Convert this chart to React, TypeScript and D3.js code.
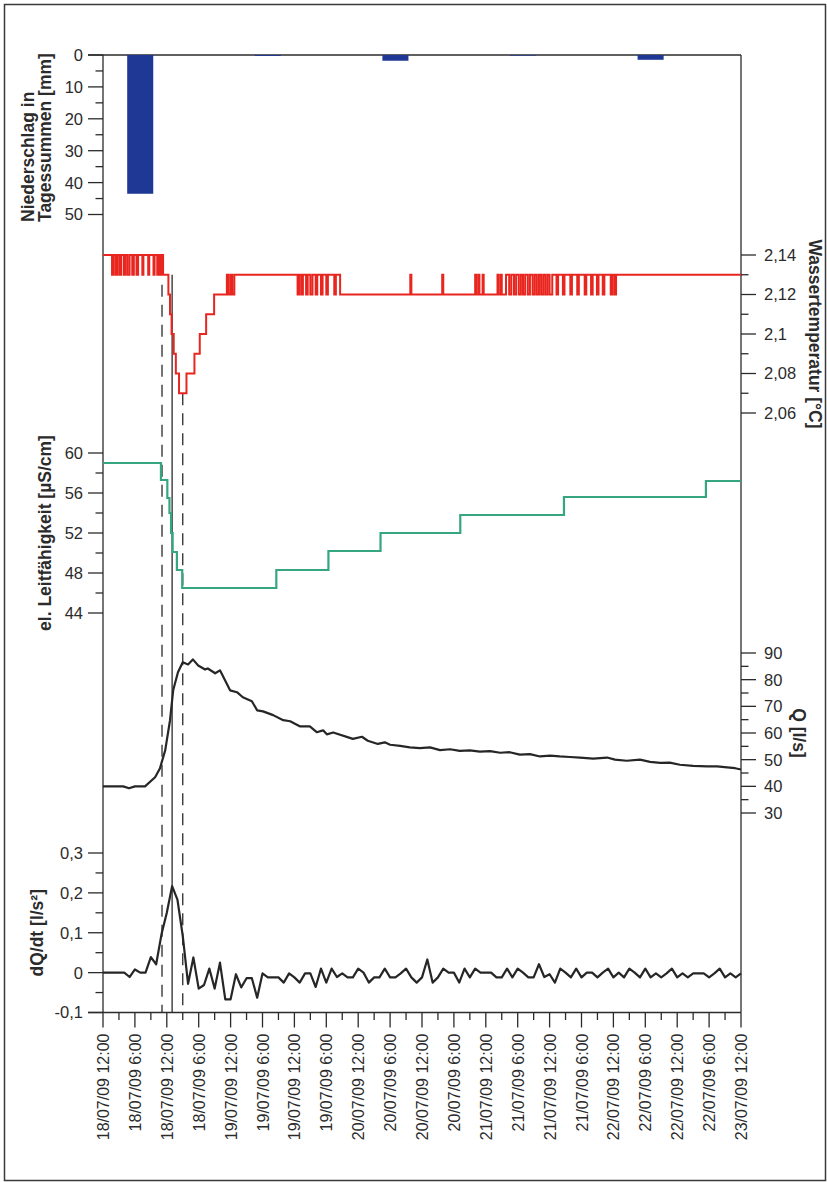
import { useEffect, useRef } from 'react';
import * as d3 from 'd3';

// time axis: hours after 18/07/09 12:00, labels as printed on the original
const X_LABELS = [
  '18/07/09 12:00', '18/07/09 6:00', '18/07/09 12:00', '18/07/09 6:00',
  '19/07/09 12:00', '19/07/09 6:00', '19/07/09 12:00', '19/07/09 6:00',
  '20/07/09 12:00', '20/07/09 6:00', '20/07/09 12:00', '20/07/09 6:00',
  '21/07/09 12:00', '21/07/09 6:00', '21/07/09 12:00', '21/07/09 6:00',
  '22/07/09 12:00', '22/07/09 6:00', '22/07/09 12:00', '22/07/09 6:00',
  '23/07/09 12:00',
];

// daily precipitation sums
const PRECIP_HOURS = [7, 31, 55, 79, 103];
const PRECIP_MM = [43.5, 0.3, 1.8, 0.2, 1.5];

// water temperature, change points (step series)
const TEMP_HOURS = [
  0, 1.7, 2.0, 2.4, 2.7, 3.1, 3.4, 3.9, 4.2, 4.6, 5.0, 5.5, 5.8, 6.3, 6.6, 7.4, 7.6, 8.5, 8.7, 9.5, 9.7,
  10.2, 10.5, 10.8, 11.1, 11.3,
  12.3, 12.6, 12.9, 13.3, 13.7, 14.3, 15.7, 17.2, 18.2, 19.4, 20.9,
  23.3, 23.6, 24.0, 24.3, 24.7,
  36.6, 36.9, 37.3, 37.6, 38.2, 38.5, 39.0, 39.4, 40.0, 40.3, 41.0, 41.3, 42.0, 42.3, 43.5, 43.8, 44.6,
  57.8, 58.0, 63.8, 64.0,
  70.0, 70.2, 70.6, 70.8, 71.4, 71.6,
  74.2, 74.4, 74.8, 75.0, 75.8, 76.4, 76.8, 77.3, 77.7, 78.2, 78.6, 79.0, 79.4, 79.9, 80.3, 80.8, 81.2,
  81.6, 82.0, 82.4, 82.8, 83.2, 83.6, 84.0, 84.5, 85.3, 85.6, 86.5, 86.8, 87.9, 88.2, 89.2, 89.5, 90.6,
  90.9, 91.8, 92.1, 92.9, 93.2, 94.0, 94.3, 95.5, 95.8, 96.2, 96.5,
  120,
];
const TEMP_VALUES = [
  2.14, 2.13, 2.14, 2.13, 2.14, 2.13, 2.14, 2.13, 2.14, 2.13, 2.14, 2.13, 2.14, 2.13, 2.14, 2.13, 2.14, 2.13, 2.14, 2.13, 2.14,
  2.13, 2.14, 2.13, 2.14, 2.13,
  2.12, 2.11, 2.10, 2.09, 2.08, 2.07, 2.08, 2.09, 2.10, 2.11, 2.12,
  2.13, 2.12, 2.13, 2.12, 2.13,
  2.12, 2.13, 2.12, 2.13, 2.12, 2.13, 2.12, 2.13, 2.12, 2.13, 2.12, 2.13, 2.12, 2.13, 2.12, 2.13, 2.12,
  2.13, 2.12, 2.13, 2.12,
  2.13, 2.12, 2.13, 2.12, 2.13, 2.12,
  2.13, 2.12, 2.13, 2.12, 2.13, 2.12, 2.13, 2.12, 2.13, 2.12, 2.13, 2.12, 2.13, 2.12, 2.13, 2.12, 2.13,
  2.12, 2.13, 2.12, 2.13, 2.12, 2.13, 2.12, 2.13, 2.12, 2.13, 2.12, 2.13, 2.12, 2.13, 2.12, 2.13, 2.12,
  2.13, 2.12, 2.13, 2.12, 2.13, 2.12, 2.13, 2.12, 2.13, 2.12, 2.13,
  2.13,
];

// electrical conductivity, change points (step series)
const COND_HOURS = [0, 10.9, 12.1, 12.5, 12.8, 13.1, 13.9, 14.9, 32.6, 42.4, 52.2, 67.2, 86.7, 113.4, 120];
const COND_VALUES = [59.0, 57.3, 55.5, 54.0, 52.0, 50.1, 48.3, 46.5, 48.3, 50.2, 52.0, 53.8, 55.6, 57.2, 57.2];

// discharge Q
const Q_HOURS = [
  0, 3.8, 4.9, 6, 7.9, 9.8, 10.7, 11.7, 12.6, 13.2, 14.1, 15, 16, 16.9, 17.9, 19.2, 19.7, 21.1, 22,
  23.9, 25.2, 26.3, 28, 29, 30.1, 32, 33.9, 35.2, 37, 38.9, 40.2, 41.4, 42.1, 43.3, 47, 48.7, 49.8,
  51.7, 53, 54, 55.9, 57.7, 59.6, 61.5, 63.4, 65.3, 67.1, 69, 70.9, 72.8, 74.7, 76.5, 78.4, 80.3,
  82.2, 84.1, 85.9, 87.8, 89.7, 92.2, 94.8, 96.3, 98.5, 101, 102.9, 104.8, 106.6, 108.5, 111, 113.6,
  115.5, 117.4, 118.9, 120,
];
const Q_VALUES = [
  40, 40, 39.3, 40, 40, 43.4, 46.7, 53.5, 64.7, 76, 82.8, 86.5, 85.7, 87.6, 85.3, 83.8, 84.2, 82.4, 83.5,
  76, 75.3, 73.4, 71.9, 68.5, 68.1, 66.7, 64.8, 64.4, 62.5, 62.5, 60.3, 61, 59.5, 60.2, 57.8, 58.6, 57.1,
  55.9, 56.5, 55.6, 55.2, 54.6, 54.3, 54.6, 53.6, 53.9, 53.3, 53.5, 53, 53.2, 52.6, 52.8, 51.9, 52.1,
  51.2, 51.5, 51.2, 51, 50.8, 50.4, 50.8, 50, 49.6, 50, 49.2, 48.8, 48.9, 48.1, 47.7, 47.5,
  47.5, 47.1, 46.8, 46.3,
];

// dQ/dt, hourly from hour 0 to 120
const DQ_VALUES = [
  0, 0, 0, 0, 0, -0.011, 0.008, 0, 0, 0.039, 0.021, 0.096, 0.15, 0.217, 0.183, 0.092, -0.028, 0.038,
  -0.04, -0.031, 0.01, -0.04, 0.025, -0.067, -0.067, -0.004, -0.037, -0.014, -0.014, -0.063, -0.002,
  -0.012, -0.012, -0.012, -0.025, -0.002, -0.012, -0.025, -0.002, -0.002, -0.036, 0.01, -0.025, 0.01,
  -0.011, -0.002, -0.012, -0.012, 0.01, 0, -0.025, -0.012, -0.012, 0.01, -0.012, -0.012, -0.002, 0.01,
  -0.012, -0.025, -0.012, 0.033, -0.025, -0.012, 0.01, 0, 0, -0.025, 0.01, -0.012, 0.01, 0, 0, 0,
  -0.012, -0.012, 0.01, -0.012, 0.01, 0, -0.012, -0.012, 0.021, -0.011, -0.004, -0.025, 0.01, 0,
  -0.012, 0.01, -0.012, 0, 0, -0.012, 0, 0.01, -0.012, 0, -0.012, 0.01, 0, -0.012, 0.01, -0.012,
  -0.002, -0.012, -0.002, 0.01, -0.012, -0.002, -0.012, -0.002, -0.002, -0.002, -0.012, -0.002, 0.01,
  -0.012, -0.002, -0.012, -0.002,
];

// event markers (hours), dashed / solid
const MARKER_HOURS = [11.1, 13.0, 15.0];
const MARKER_DASHED = [true, false, true];
const MARKER_TOP_TEMP = [2.125, 2.13, 2.07];

const FONT = 'Liberation Sans, Arial, Helvetica, sans-serif';
const INK = '#2b2b2b';

export default function App() {
  const svgRef = useRef<SVGSVGElement>(null);

  useEffect(() => {
    if (!svgRef.current) return;
    const svg = d3.select(svgRef.current);
    svg.selectAll('*').remove();

    const X0 = 103;
    const X1 = 741;
    const x = d3.scaleLinear().domain([0, 120]).range([X0, X1]);
    const yP = d3.scaleLinear().domain([0, 50]).range([55, 214.5]);
    const yT = d3.scaleLinear().domain([2.06, 2.14]).range([413, 255]);
    const yC = d3.scaleLinear().domain([44, 60]).range([613, 453]);
    const yQ = d3.scaleLinear().domain([30, 90]).range([813, 653]);
    const yD = d3.scaleLinear().domain([-0.1, 0.3]).range([1012.5, 853]);
    const BOTTOM = yD(-0.1);

    svg.append('rect')
      .attr('x', 4.5).attr('y', 4.5).attr('width', 821).attr('height', 1176)
      .attr('fill', '#fff').attr('stroke', '#3a3a3a').attr('stroke-width', 1.5);

    // vertical axis with major + minor ticks
    const vAxis = (scale: any, majors: number[], labels: string[], minors: number[], side: string) => {
      const g = svg.append('g');
      const xPos = side === 'left' ? X0 : X1;
      const dir = side === 'left' ? -1 : 1;
      majors.forEach((v, i) => {
        g.append('line')
          .attr('x1', xPos).attr('x2', xPos + dir * 15)
          .attr('y1', scale(v)).attr('y2', scale(v))
          .attr('stroke', INK).attr('stroke-width', 1.3);
        g.append('text')
          .attr('x', side === 'left' ? xPos - 20 : xPos + 23)
          .attr('y', scale(v))
          .attr('dy', '0.36em')
          .attr('text-anchor', side === 'left' ? 'end' : 'start')
          .attr('font-family', FONT).attr('font-size', 16.5).attr('fill', INK)
          .text(labels[i]);
      });
      minors.forEach(v => {
        g.append('line')
          .attr('x1', xPos).attr('x2', xPos + dir * 7.5)
          .attr('y1', scale(v)).attr('y2', scale(v))
          .attr('stroke', INK).attr('stroke-width', 1.3);
      });
    };

    vAxis(yP, [0, 10, 20, 30, 40, 50], ['0', '10', '20', '30', '40', '50'], [5, 15, 25, 35, 45], 'left');
    vAxis(yT, [2.06, 2.08, 2.1, 2.12, 2.14], ['2,06', '2,08', '2,1', '2,12', '2,14'], [2.07, 2.09, 2.11, 2.13], 'right');
    vAxis(yC, [44, 48, 52, 56, 60], ['44', '48', '52', '56', '60'], [46, 50, 54, 58], 'left');
    vAxis(yQ, [30, 40, 50, 60, 70, 80, 90], ['30', '40', '50', '60', '70', '80', '90'], [35, 45, 55, 65, 75, 85], 'right');
    vAxis(yD, [-0.1, 0, 0.1, 0.2, 0.3], ['-0,1', '0', '0,1', '0,2', '0,3'], [-0.05, 0.05, 0.15, 0.25], 'left');

    // frame lines
    const frame = svg.append('g').attr('stroke', INK).attr('stroke-width', 1.3);
    frame.append('line').attr('x1', X0).attr('x2', X0).attr('y1', yP(0)).attr('y2', BOTTOM);
    frame.append('line').attr('x1', X1).attr('x2', X1).attr('y1', yP(0)).attr('y2', BOTTOM);
    frame.append('line').attr('x1', X0 - 15).attr('x2', X1).attr('y1', yP(0)).attr('y2', yP(0));
    frame.append('line').attr('x1', X0 - 15).attr('x2', X1).attr('y1', BOTTOM).attr('y2', BOTTOM);

    // x axis ticks + labels
    const xg = svg.append('g');
    X_LABELS.forEach((lab, i) => {
      const h = i * 6;
      xg.append('line')
        .attr('x1', x(h)).attr('x2', x(h)).attr('y1', BOTTOM).attr('y2', BOTTOM + 15)
        .attr('stroke', INK).attr('stroke-width', 1.3);
      xg.append('text')
        .attr('transform', `translate(${x(h) + 6},${BOTTOM + 21}) rotate(-90)`)
        .attr('text-anchor', 'end')
        .attr('font-family', FONT).attr('font-size', 16).attr('fill', INK)
        .text(lab);
      if (i < X_LABELS.length - 1) {
        xg.append('line')
          .attr('x1', x(h + 3)).attr('x2', x(h + 3)).attr('y1', BOTTOM).attr('y2', BOTTOM + 7.5)
          .attr('stroke', INK).attr('stroke-width', 1.3);
      }
    });

    // axis titles
    const title = (tx: number, ty: number, rot: number, anchor: string, txt: string) => {
      svg.append('text')
        .attr('transform', `translate(${tx},${ty}) rotate(${rot})`)
        .attr('text-anchor', anchor)
        .attr('font-family', FONT).attr('font-size', 17.5).attr('font-weight', 'bold').attr('fill', INK)
        .text(txt);
    };
    title(34, 222, -90, 'start', 'Niederschlag in');
    title(51, 222, -90, 'start', 'Tagessummen [mm]');
    title(51, yC(52), -90, 'middle', 'el. Leitfähigkeit [µS/cm]');
    title(43, yD(0.1), -90, 'middle', 'dQ/dt [l/s²]');
    title(809, yT(2.1), 90, 'middle', 'Wassertemperatur [°C]');
    title(793, yQ(60), 90, 'middle', 'Q [l/s]');

    // precipitation bars (hanging from 0)
    const barW = x(4.9) - x(0);
    svg.append('g')
      .selectAll('rect')
      .data(PRECIP_HOURS.map((h, i) => ({ h, v: PRECIP_MM[i] })))
      .join('rect')
      .attr('x', d => x(d.h) - barW / 2)
      .attr('y', yP(0))
      .attr('width', barW)
      .attr('height', d => yP(d.v) - yP(0))
      .attr('fill', '#1f3896');

    // event markers
    MARKER_HOURS.forEach((h, i) => {
      svg.append('line')
        .attr('x1', x(h)).attr('x2', x(h))
        .attr('y1', yT(MARKER_TOP_TEMP[i])).attr('y2', BOTTOM)
        .attr('stroke', INK).attr('stroke-width', 1.3)
        .attr('stroke-dasharray', MARKER_DASHED[i] ? '12,8' : null);
    });

    // temperature (step)
    const tempLine = d3.line<number>()
      .x((d, i) => x(TEMP_HOURS[i]))
      .y(d => yT(d))
      .curve(d3.curveStepAfter);
    svg.append('path')
      .attr('d', tempLine(TEMP_VALUES))
      .attr('fill', 'none').attr('stroke', '#e8261f').attr('stroke-width', 2);

    // conductivity (step)
    const condLine = d3.line<number>()
      .x((d, i) => x(COND_HOURS[i]))
      .y(d => yC(d))
      .curve(d3.curveStepAfter);
    svg.append('path')
      .attr('d', condLine(COND_VALUES))
      .attr('fill', 'none').attr('stroke', '#36a680').attr('stroke-width', 2.2);

    // discharge
    const qLine = d3.line<number>()
      .x((d, i) => x(Q_HOURS[i]))
      .y(d => yQ(d));
    svg.append('path')
      .attr('d', qLine(Q_VALUES))
      .attr('fill', 'none').attr('stroke', '#262626').attr('stroke-width', 2.2).attr('stroke-linejoin', 'round');

    // dQ/dt
    const dLine = d3.line<number>()
      .x((d, i) => x(i))
      .y(d => yD(d));
    svg.append('path')
      .attr('d', dLine(DQ_VALUES))
      .attr('fill', 'none').attr('stroke', '#262626').attr('stroke-width', 2.2).attr('stroke-linejoin', 'round');
  }, []);

  return (
    <svg
      ref={svgRef}
      width={827}
      height={1182}
      style={{ position: 'absolute', left: 0, top: 0, display: 'block', background: '#fff' }}
    />
  );
}
